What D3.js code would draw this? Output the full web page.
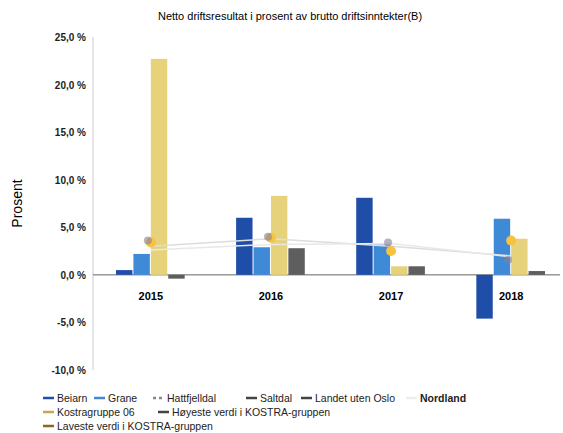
<!DOCTYPE html>
<html><head><meta charset="utf-8">
<script src="https://cdn.jsdelivr.net/npm/d3@7"></script>
<style>body{margin:0;background:#fff;font-family:"Liberation Sans",Arial,sans-serif}</style>
</head><body><div id="svg"></div>
<script>
const years = ["2015", "2016", "2017", "2018"];
const barSeries = ["Beiarn", "Grane", "Hattfjelldal", "Saltdal"];
const beiarn = [0.5, 6.0, 8.1, -4.6];
const grane = [2.2, 2.9, 3.2, 5.9];
const hattfjelldal = [22.7, 8.3, 0.9, 3.8];
const saltdal = [-0.4, 2.8, 0.9, 0.4];
const landetUtenOslo = [3.0, 3.8, 3.0, 2.0];
const nordland = [2.6, 3.2, 3.3, 1.9];
const kostragruppe = [3.4, 3.9, 2.5, 3.6];
const hoyeste = [3.6, 4.0, 3.4, 1.6];
const yTicks = [25, 20, 15, 10, 5, 0, -5, -10];
const barColors = ["#1f4ea8", "#3f8ad6", "#e6d27a", "#5e5e5e"];

const width = 563, height = 433;
const svg = d3.select('#svg').append('svg').attr('width', width).attr('height', height);
const x = d3.scaleBand().domain(years).range([116, 546]).paddingInner(0.42).paddingOuter(0);
const xi = d3.scaleBand().domain(barSeries).range([0, x.bandwidth()]);
const y = d3.scaleLinear().domain([-10, 25]).range([370, 37]);

svg.append('text').attr('x', 290).attr('y', 20).attr('text-anchor', 'middle')
    .attr('font-size', 11).text('Netto driftsresultat i prosent av brutto driftsinntekter(B)');

// y axis
svg.append('line').attr('x1', 93).attr('x2', 93).attr('y1', 37).attr('y2', 370).attr('stroke', '#ccc');
svg.selectAll('.yt').data(yTicks).enter().append('text')
    .attr('x', 86).attr('y', d => y(d) + 4).attr('text-anchor', 'end')
    .attr('font-size', 10).attr('font-weight', 'bold').attr('fill', '#222')
    .text(d => d.toFixed(1).replace('.', ',') + ' %');
svg.append('text').attr('transform', `translate(22,${y(7.5)}) rotate(-90)`)
    .attr('text-anchor', 'middle').attr('font-size', 14).text('Prosent');

// zero line
svg.append('line').attr('x1', 93).attr('x2', 560).attr('y1', y(0)).attr('y2', y(0)).attr('stroke', '#666');

const allBars = [beiarn, grane, hattfjelldal, saltdal];
barSeries.forEach((s, si) => {
    svg.selectAll('.b' + si).data(years).enter().append('rect')
        .attr('x', d => x(d) + xi(s))
        .attr('width', xi.bandwidth() - 1)
        .attr('y', (d, i) => y(Math.max(0, allBars[si][i])))
        .attr('height', (d, i) => Math.abs(y(allBars[si][i]) - y(0)))
        .attr('fill', barColors[si]);
});

const cx = d => x(d) + x.bandwidth() / 2;
const line = arr => d3.line().x((d, i) => cx(years[i])).y(d => y(d))(arr);
svg.append('path').attr('d', line(landetUtenOslo)).attr('fill', 'none').attr('stroke', '#ddd').attr('stroke-width', 1.5);
svg.append('path').attr('d', line(nordland)).attr('fill', 'none').attr('stroke', '#e8e8e8').attr('stroke-width', 1.5);
svg.selectAll('.k').data(kostragruppe).enter().append('circle')
    .attr('cx', (d, i) => cx(years[i])).attr('cy', d => y(d)).attr('r', 5).attr('fill', '#f5c242');
svg.selectAll('.h').data(hoyeste).enter().append('circle')
    .attr('cx', (d, i) => cx(years[i]) - 3).attr('cy', d => y(d)).attr('r', 4).attr('fill', '#8a7f9a').attr('opacity', 0.6);

svg.selectAll('.xl').data(years).enter().append('text')
    .attr('x', d => cx(d)).attr('y', 300).attr('text-anchor', 'middle')
    .attr('font-size', 11).attr('font-weight', 'bold').text(d => d);

// legend
const legend = [
    [["Beiarn", "#1f4ea8", 57], ["Grane", "#3f8ad6", 108], ["Hattfjelldal", "#888", 167, true], ["Saltdal", "#444", 260], ["Landet uten Oslo", "#444", 315], ["Nordland", "#eee", 420]],
    [["Kostragruppe 06", "#c9a64a", 57], ["Høyeste verdi i KOSTRA-gruppen", "#444", 172]],
    [["Laveste verdi i KOSTRA-gruppen", "#8a6a1f", 57]]
];
legend.forEach((row, r) => row.forEach(([t, c, lx, dash]) => {
    const ly = 398 + r * 14;
    svg.append('line').attr('x1', lx - 14).attr('x2', lx - 3).attr('y1', ly).attr('y2', ly)
        .attr('stroke', c).attr('stroke-width', 2.5).attr('stroke-dasharray', dash ? '3,3' : null);
    svg.append('text').attr('x', lx).attr('y', ly + 4).attr('font-size', 10.5)
        .attr('font-weight', t === 'Nordland' ? 'bold' : null).attr('fill', '#222').text(t);
}));
</script></body></html>
